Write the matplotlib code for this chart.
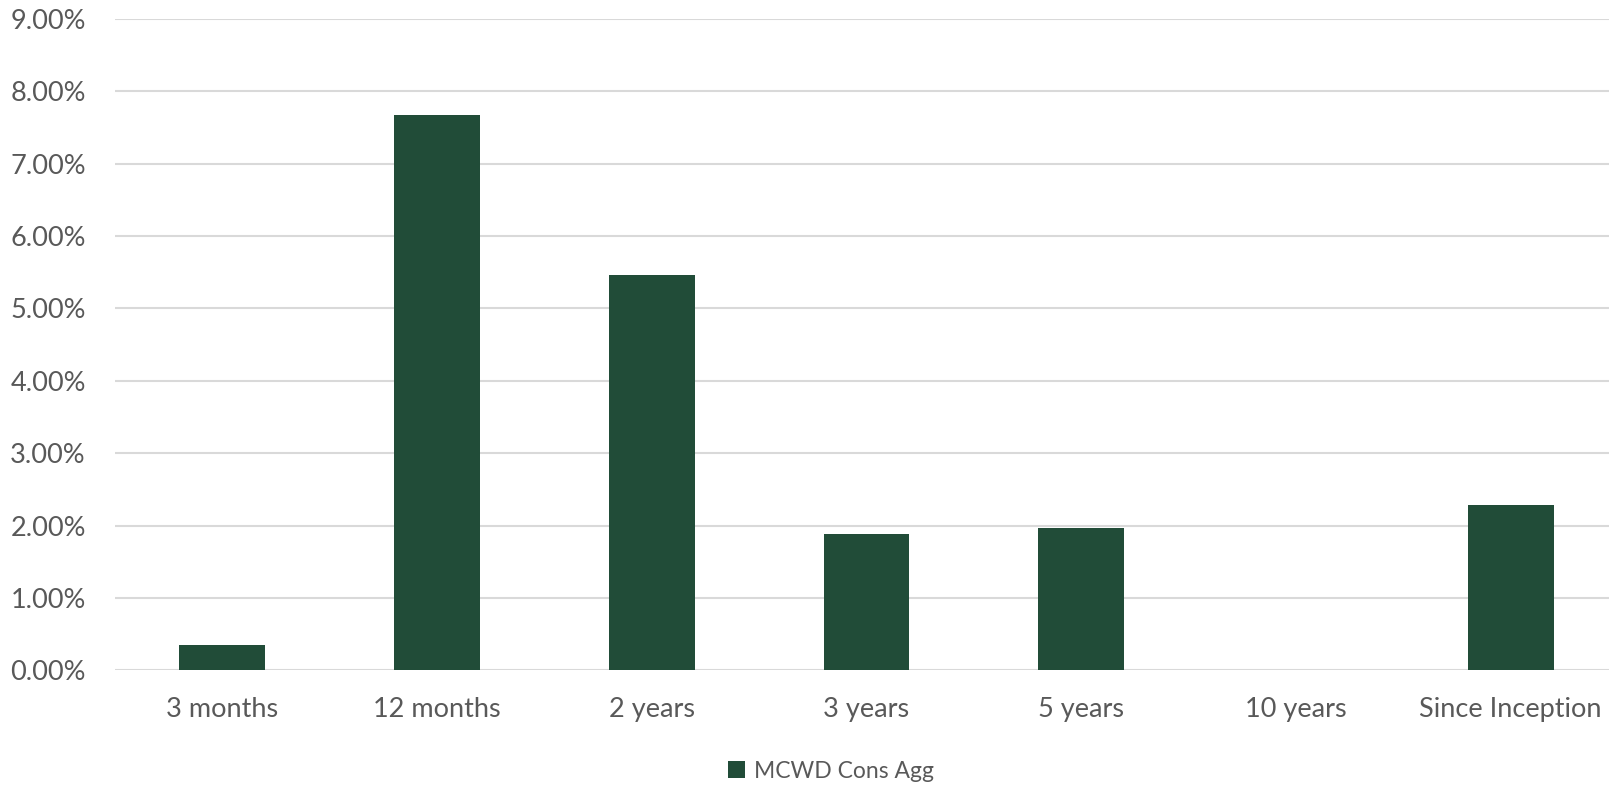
import matplotlib.pyplot as plt
import numpy as np
from matplotlib.ticker import FuncFormatter

plt.rcParams['font.family'] = ['Lato', 'DejaVu Sans']

# data (percent)
periods = ['3 months', '12 months', '2 years', '3 years', '5 years', '10 years', 'Since Inception']
returns = [0.35, 7.67, 5.46, 1.89, 1.97, 0.0, 2.29]
series_name = 'MCWD Cons Agg'
y_ticks = np.arange(0, 10, 1)

bar_color = '#214c38'
text_color = '#595959'

fig = plt.figure(figsize=(16.09, 7.86), dpi=100)
# plot area runs slightly past the right edge, as in the original
ax = fig.add_axes([115 / 1609, 0.1472, 1503 / 1609, 0.8286])

x = np.arange(len(periods))
ax.bar(x, returns, width=0.4, color=bar_color, label=series_name, zorder=3)

ax.set_xlim(-0.5, len(periods) - 0.5)
ax.set_ylim(0, 9)
ax.set_yticks(y_ticks)
ax.yaxis.set_major_formatter(FuncFormatter(lambda v, p: f'{v:.2f}%'))
ax.set_xticks(x)
ax.set_xticklabels(periods)

ax.grid(axis='y', color='#d9d9d9', linewidth=1.5, zorder=0)
ax.tick_params(axis='both', length=0, labelsize=19.5, labelcolor=text_color)
ax.tick_params(axis='y', pad=21)
ax.tick_params(axis='x', pad=19)
for s in ax.spines.values():
    s.set_visible(False)

leg = fig.legend(loc='center', bbox_to_anchor=(0.5166, 1 - 771 / 786), frameon=False,
                 fontsize=16.5, handlelength=0.75, handleheight=0.75, handletextpad=0.4)
for t in leg.get_texts():
    t.set_color(text_color)

fig.savefig('out.png', dpi=100)
